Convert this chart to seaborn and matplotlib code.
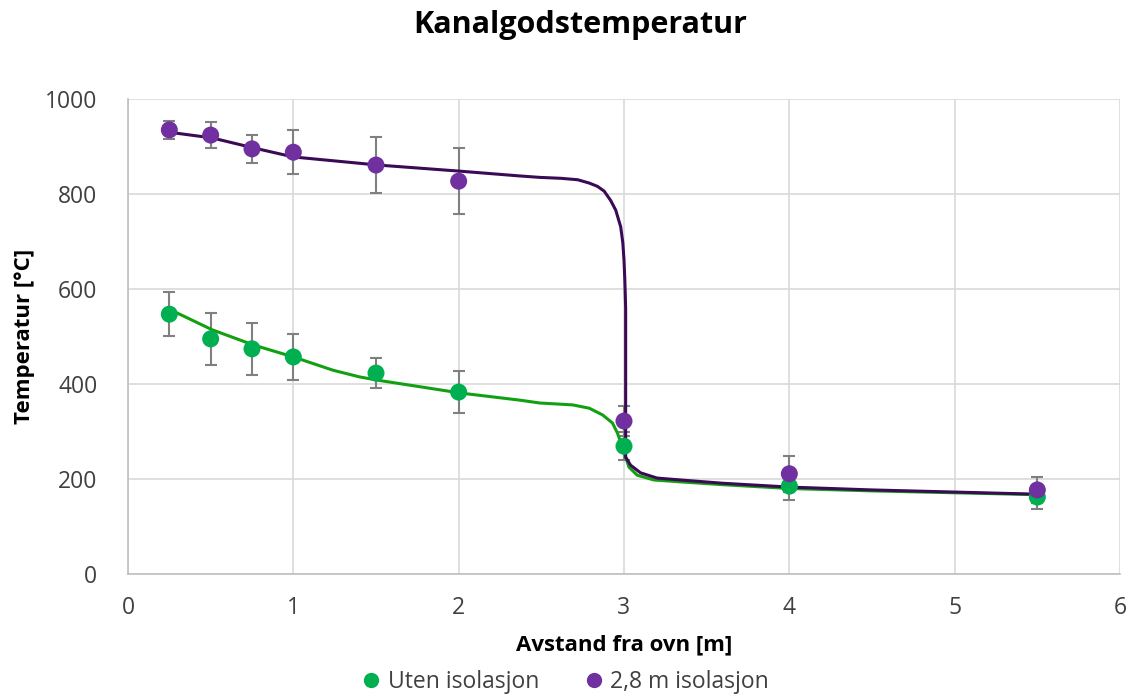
import numpy as np
import pandas as pd
import matplotlib
matplotlib.use("Agg")
import matplotlib.pyplot as plt
import seaborn as sns
from matplotlib.lines import Line2D

# Measured points
distance = [0.25, 0.5, 0.75, 1.0, 1.5, 2.0, 3.0, 4.0, 5.5]
temp_uten = [547, 495, 474, 457, 423, 383, 269, 185, 162]
err_uten = [46, 55, 55, 48, 31, 44, 30, 30, 25]
temp_iso = [935, 924, 895, 888, 861, 827, 322, 211, 177]
err_iso = [19, 28, 30, 46, 59, 70, 32, 38, 27]

# Trend curves
curve_uten_x = [0.27, 0.51, 0.76, 1.0, 1.24, 1.40, 1.51, 1.77, 2.01, 2.37, 2.49, 2.69, 2.79, 2.87, 2.93,
                2.96, 2.99, 3.01, 3.03, 3.08, 3.18, 3.34, 3.6, 4.0, 4.5, 5.5]
curve_uten_y = [554, 514, 482, 457, 429, 415, 408, 394, 381, 366, 360, 356, 349, 335, 318,
                297, 268, 246, 225, 208, 198, 194, 188, 180, 175, 167]
curve_iso_x = [0.25, 0.51, 0.76, 1.0, 1.51, 2.01, 2.37, 2.49, 2.62, 2.72, 2.79, 2.84, 2.88, 2.92, 2.95,
               2.98, 2.993, 3.0, 3.005, 3.01, 3.01, 3.04, 3.10, 3.20, 3.34, 3.6, 4.0, 4.5, 5.5]
curve_iso_y = [930, 918, 897, 878, 861, 848, 838, 835, 833, 830, 823, 816, 806, 786, 766,
               731, 697, 661, 619, 560, 246, 229, 213, 202, 198, 191, 183, 177, 168]

labels = ["Uten isolasjon", "2,8 m isolasjon"]
x_ticks = [0, 1, 2, 3, 4, 5, 6]
y_ticks = [0, 200, 400, 600, 800, 1000]

green = "#00B050"
purple = "#7030A0"
green_line = "#12A012"
purple_line = "#3A0A55"

sns.set_theme(style="white")
plt.rcParams["font.family"] = ["Open Sans", "DejaVu Sans"]

fig = plt.figure(figsize=(11.31, 6.99), dpi=100)
ax = fig.add_axes([128 / 1131, 1 - 574 / 699, (1120 - 128) / 1131, (574 - 99) / 699])

ax.grid(True, color="#D9D9D9", linewidth=1.2)
ax.set_axisbelow(True)

cu = pd.DataFrame({"x": curve_uten_x, "y": curve_uten_y})
ci = pd.DataFrame({"x": curve_iso_x, "y": curve_iso_y})
sns.lineplot(data=cu, x="x", y="y", ax=ax, sort=False, estimator=None, color=green_line, linewidth=2.2, zorder=3)
sns.lineplot(data=ci, x="x", y="y", ax=ax, sort=False, estimator=None, color=purple_line, linewidth=2.2, zorder=3)

ax.errorbar(distance, temp_uten, yerr=err_uten, fmt="none", ecolor="#808080", elinewidth=1.5, capsize=4, capthick=1.5, zorder=2)
ax.errorbar(distance, temp_iso, yerr=err_iso, fmt="none", ecolor="#808080", elinewidth=1.5, capsize=4, capthick=1.5, zorder=2)

pts = pd.DataFrame({
    "x": distance + distance,
    "y": temp_uten + temp_iso,
    "serie": [labels[0]] * len(distance) + [labels[1]] * len(distance),
})
sns.scatterplot(data=pts, x="x", y="y", hue="serie", palette=[green, purple], s=150, edgecolor="none", ax=ax, zorder=4, legend=False)

ax.set_xlim(0, 6)
ax.set_ylim(0, 1000)
ax.set_xticks(x_ticks)
ax.set_yticks(y_ticks)
ax.tick_params(axis="x", labelsize=16.5, colors="#404040", length=0, pad=16)
ax.tick_params(axis="y", labelsize=16.5, colors="#404040", length=0, pad=22)
for s in ["top", "right"]:
    ax.spines[s].set_visible(False)
for s in ["left", "bottom"]:
    ax.spines[s].set_color("#BFBFBF")
    ax.spines[s].set_linewidth(1.2)

ax.set_xlabel("Avstand fra ovn [m]", fontsize=16, fontweight="bold", color="black", labelpad=10)
ax.set_ylabel("Temperatur [°C]", fontsize=16, fontweight="bold", color="black", labelpad=7)
fig.suptitle("Kanalgodstemperatur", fontsize=22, fontweight="bold", color="black", y=0.985, x=0.513)

handles = [Line2D([], [], marker="o", linestyle="none", color=green, markersize=10),
           Line2D([], [], marker="o", linestyle="none", color=purple, markersize=10)]
fig.legend(handles, labels, loc="lower center", bbox_to_anchor=(0.50, -0.022), ncol=2, frameon=False,
           fontsize=16.5, handlelength=0.8, handletextpad=0.3, columnspacing=2.0, labelcolor="#404040")

fig.savefig("out.png", dpi=100)
